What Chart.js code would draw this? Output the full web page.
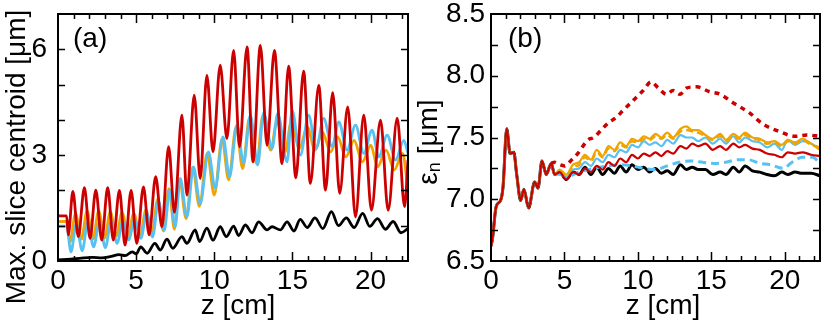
<!DOCTYPE html>
<html>
<head>
<meta charset="utf-8">
<script src="https://cdn.jsdelivr.net/npm/chart.js@4.4.1/dist/chart.umd.min.js"></script>
<style>
  html, body { margin: 0; padding: 0; background: #fff; }
  #wrap { position: relative; width: 822px; height: 329px; }
  canvas { position: absolute; top: 0; }
  #chartA { left: 0; }
  #chartB { left: 411px; }
</style>
</head>
<body>
<div id="wrap">
  <canvas id="chartA" width="411" height="329"></canvas>
  <canvas id="chartB" width="411" height="329"></canvas>
</div>
<script>
// ---- panel (a): max. slice centroid [um] vs z [cm] ----
const aRedZ = [0, 0.55, 0.66, 0.95, 1.30, 1.69, 2.05, 2.42, 2.80, 3.18, 3.54, 3.93, 4.29, 4.68, 5.04, 5.47, 5.83, 6.25, 6.65, 7.08, 7.45, 7.93, 8.25, 8.72, 9.10, 9.53, 9.92, 10.38, 10.81, 11.24, 11.62, 12.10, 12.48, 12.95, 13.38, 13.85, 14.34, 14.76, 15.22, 15.72, 16.15, 16.69, 17.12, 17.58, 18.03, 18.54, 19.04, 19.57, 20.06, 20.64, 21.13, 21.71, 22.18, 22.4];
const aRedV = [1.28, 1.28, 0.74, 1.97, 0.69, 2.08, 0.64, 2.01, 0.59, 2.08, 0.59, 2.00, 0.45, 2.00, 0.50, 2.10, 0.74, 2.39, 0.97, 3.24, 1.38, 4.13, 1.87, 4.70, 2.34, 5.26, 3.09, 5.55, 3.47, 5.97, 3.24, 6.07, 2.81, 6.11, 3.28, 5.97, 2.76, 5.52, 2.36, 5.38, 2.20, 4.98, 2.01, 4.77, 1.92, 4.37, 1.25, 4.13, 1.44, 3.99, 1.44, 4.05, 1.54, 2.86];

const aBlueZ = [0, 0.55, 0.83, 1.17, 1.55, 1.90, 2.28, 2.65, 3.03, 3.40, 3.78, 4.15, 4.53, 4.90, 5.30, 5.68, 6.05, 6.43, 6.80, 7.15, 7.50, 7.82, 8.25, 8.67, 9.10, 9.63, 10.06, 10.56, 10.98, 11.45, 11.88, 12.31, 12.78, 13.16, 13.70, 14.06, 14.66, 14.98, 15.51, 16.04, 16.52, 17.00, 17.54, 17.97, 18.50, 19.04, 19.57, 20.10, 20.53, 21.07, 21.60, 22.13, 22.40];
const aBlueV = [0.99, 0.99, 0.26, 1.05, 0.29, 1.10, 0.40, 1.10, 0.38, 1.12, 0.50, 1.12, 0.59, 1.18, 0.64, 1.36, 0.68, 1.70, 0.87, 2.00, 0.97, 2.34, 1.25, 2.67, 1.63, 3.09, 2.06, 3.52, 2.39, 3.85, 2.77, 4.13, 2.72, 4.20, 3.19, 4.18, 2.81, 4.27, 3.00, 4.13, 3.19, 4.04, 3.24, 3.94, 3.14, 3.85, 3.05, 3.71, 2.95, 3.57, 2.86, 3.42, 3.05];

const aOrangeZ = [0, 0.55, 0.78, 1.12, 1.50, 1.86, 2.24, 2.60, 2.98, 3.35, 3.73, 4.10, 4.48, 4.85, 5.25, 5.63, 6.00, 6.38, 6.75, 7.10, 7.45, 7.78, 8.20, 8.62, 9.05, 9.55, 10.0, 10.50, 10.92, 11.40, 11.82, 12.25, 12.72, 13.10, 13.62, 14.00, 14.55, 14.92, 15.45, 15.95, 16.45, 16.92, 17.45, 17.90, 18.42, 18.95, 19.48, 20.02, 20.45, 21.0, 21.52, 22.05, 22.40];
const aOrangeV = [1.12, 1.12, 0.55, 1.35, 0.62, 1.42, 0.62, 1.42, 0.65, 1.40, 0.70, 1.38, 0.72, 1.35, 0.70, 1.45, 0.75, 1.75, 0.85, 2.05, 0.90, 2.30, 1.20, 2.65, 1.55, 3.05, 1.87, 3.45, 2.30, 3.80, 2.62, 4.05, 2.75, 4.10, 3.14, 3.95, 3.10, 3.94, 3.19, 3.80, 3.14, 3.66, 3.09, 3.52, 2.95, 3.42, 2.81, 3.28, 2.67, 3.14, 2.58, 3.05, 2.05];

const aBlackZ = [0, 0.8, 1.5, 2.2, 2.8, 3.4, 3.9, 4.3, 4.75, 5.0, 5.30, 5.70, 6.20, 6.55, 6.97, 7.35, 7.93, 8.25, 8.78, 9.06, 9.53, 9.92, 10.38, 10.77, 11.24, 11.56, 11.99, 12.42, 12.84, 13.38, 13.70, 14.23, 14.66, 15.10, 15.50, 15.95, 16.45, 16.95, 17.50, 17.95, 18.45, 18.95, 19.50, 19.95, 20.45, 20.95, 21.45, 21.95, 22.40];
const aBlackV = [0.03, 0.05, 0.08, 0.10, 0.09, 0.13, 0.18, 0.15, 0.26, 0.20, 0.40, 0.22, 0.50, 0.31, 0.62, 0.36, 0.69, 0.50, 0.88, 0.55, 0.93, 0.59, 0.97, 0.69, 0.99, 0.72, 1.02, 0.80, 1.11, 0.88, 0.97, 0.88, 1.11, 0.85, 1.18, 0.95, 1.22, 0.92, 1.40, 1.00, 1.22, 0.95, 1.35, 0.98, 1.20, 0.90, 1.12, 0.80, 0.92];

// ---- panel (b): emittance [um] vs z [cm] ----
const bStartZ = [0, 0.1, 0.35, 0.65, 0.82, 1.07, 1.30, 1.55, 1.75, 2.02, 2.24, 2.56, 2.97, 3.20, 3.47, 3.76, 4.10, 4.33];
const bStartV = [6.62, 6.68, 6.94, 6.99, 7.10, 7.57, 7.37, 7.38, 7.20, 6.99, 7.08, 6.93, 7.14, 7.09, 7.31, 7.20, 7.29, 7.20];
const bTailZ = [4.67, 5.12, 5.58, 6.0, 6.4, 6.8, 7.2, 7.6, 8.0, 8.4, 8.8, 9.2, 9.6, 10.0, 10.4, 10.8, 11.2, 11.6, 12.0, 12.4, 12.9, 13.3, 13.7, 14.1, 14.6, 15.1, 15.6, 16.0, 16.5, 16.9, 17.3, 17.8, 18.3, 18.8, 19.3, 19.8, 20.2, 20.7, 21.2, 21.8, 22.4];
const bBlackV = [7.22, 7.16, 7.22, 7.20, 7.26, 7.20, 7.26, 7.20, 7.25, 7.21, 7.27, 7.22, 7.28, 7.24, 7.26, 7.22, 7.25, 7.21, 7.23, 7.20, 7.28, 7.24, 7.26, 7.24, 7.24, 7.20, 7.22, 7.20, 7.26, 7.22, 7.27, 7.23, 7.22, 7.20, 7.19, 7.22, 7.20, 7.22, 7.21, 7.21, 7.19];
const bRedV = [7.22, 7.16, 7.22, 7.20, 7.25, 7.22, 7.27, 7.24, 7.30, 7.27, 7.33, 7.30, 7.36, 7.33, 7.37, 7.35, 7.38, 7.35, 7.39, 7.37, 7.43, 7.41, 7.45, 7.43, 7.45, 7.40, 7.43, 7.40, 7.45, 7.42, 7.44, 7.41, 7.40, 7.37, 7.36, 7.34, 7.38, 7.37, 7.38, 7.36, 7.35];
const bBlueV = [7.20, 7.18, 7.24, 7.25, 7.30, 7.27, 7.33, 7.30, 7.36, 7.34, 7.40, 7.38, 7.44, 7.42, 7.47, 7.44, 7.46, 7.43, 7.48, 7.45, 7.52, 7.50, 7.50, 7.47, 7.50, 7.45, 7.49, 7.45, 7.51, 7.46, 7.50, 7.47, 7.46, 7.42, 7.45, 7.40, 7.48, 7.44, 7.47, 7.45, 7.41];
const bOrangeV = [7.24, 7.20, 7.28, 7.30, 7.36, 7.32, 7.40, 7.35, 7.43, 7.40, 7.46, 7.43, 7.49, 7.47, 7.51, 7.49, 7.53, 7.50, 7.54, 7.50, 7.57, 7.59, 7.56, 7.56, 7.52, 7.49, 7.53, 7.48, 7.53, 7.50, 7.54, 7.50, 7.49, 7.46, 7.47, 7.44, 7.48, 7.46, 7.49, 7.45, 7.40];
const bOrangeDashV = [7.23, 7.19, 7.26, 7.28, 7.34, 7.31, 7.38, 7.34, 7.41, 7.39, 7.44, 7.42, 7.47, 7.46, 7.49, 7.48, 7.51, 7.49, 7.52, 7.49, 7.55, 7.56, 7.55, 7.54, 7.51, 7.48, 7.51, 7.47, 7.51, 7.49, 7.52, 7.49, 7.48, 7.45, 7.46, 7.43, 7.47, 7.45, 7.48, 7.44, 7.42];
const bBlueDashZ = [4.67, 5.12, 6.0, 7.0, 8.0, 8.8, 9.6, 10.4, 11.2, 12.0, 12.8, 13.6, 14.4, 15.2, 16.0, 16.8, 17.5, 18.3, 19.0, 19.9, 20.5, 21.2, 21.9, 22.4];
const bBlueDashV = [7.21, 7.18, 7.22, 7.25, 7.27, 7.28, 7.27, 7.25, 7.24, 7.27, 7.30, 7.31, 7.30, 7.29, 7.30, 7.32, 7.32, 7.29, 7.28, 7.25, 7.30, 7.34, 7.34, 7.29];
const bRedDotZ = [4.10, 4.33, 4.67, 5.0, 5.5, 5.9, 6.6, 7.0, 7.5, 8.0, 8.5, 9.0, 9.6, 10.36, 10.9, 11.4, 11.95, 12.4, 12.86, 13.3, 14.0, 14.9, 15.6, 16.5, 17.6, 18.5, 19.6, 20.7, 21.5, 22.4];
const bRedDotV = [7.29, 7.30, 7.28, 7.27, 7.32, 7.37, 7.48, 7.50, 7.56, 7.62, 7.66, 7.72, 7.79, 7.88, 7.95, 7.90, 7.85, 7.88, 7.85, 7.90, 7.91, 7.87, 7.85, 7.78, 7.70, 7.61, 7.55, 7.51, 7.52, 7.51];

const RED = '#cc0000', ORANGE = '#f0a400', BLUE = '#56c1f2', BLACK = '#000000';
const FONT = '"Liberation Sans", Arial, Helvetica, sans-serif';

function pts(zs, vs) {
  return zs.map((z, i) => ({ x: z, y: vs[i] }));
}

function line(zs, vs, color, width, dash) {
  return {
    data: pts(zs, vs),
    borderColor: color,
    borderWidth: width,
    borderDash: dash || [],
    pointRadius: 0,
    fill: false,
    cubicInterpolationMode: 'monotone'
  };
}

// frame, inward ticks on all four sides, panel label and axis titles
function framePlugin(o) {
  return {
    id: 'frame',
    afterDraw(chart) {
      const { ctx, chartArea: a } = chart;
      const xs = chart.scales.x, ys = chart.scales.y;
      ctx.save();
      ctx.setLineDash([]);
      ctx.strokeStyle = '#000';
      ctx.lineWidth = 1.5;
      ctx.beginPath();
      for (let v = 1; v < xs.max; v += 1) {
        const px = Math.round(xs.getPixelForValue(v)) + 0.5;
        const len = v % 5 === 0 ? 9 : 5;
        ctx.moveTo(px, a.bottom); ctx.lineTo(px, a.bottom - len);
        ctx.moveTo(px, a.top); ctx.lineTo(px, a.top + len);
      }
      for (let k = 1; ys.min + k * o.yStep < ys.max - 1e-6; k++) {
        const py = Math.round(ys.getPixelForValue(ys.min + k * o.yStep)) + 0.5;
        ctx.moveTo(a.left, py); ctx.lineTo(a.left + 7, py);
        ctx.moveTo(a.right, py); ctx.lineTo(a.right - 7, py);
      }
      ctx.stroke();
      ctx.lineWidth = 2;
      ctx.strokeRect(a.left, a.top, a.right - a.left, a.bottom - a.top);

      ctx.fillStyle = '#000';
      ctx.font = '28px ' + FONT;
      ctx.textBaseline = 'alphabetic';
      ctx.textAlign = 'left';
      ctx.fillText(o.label, o.labelX, 47);
      ctx.textAlign = 'center';
      ctx.fillText('z [cm]', o.xTitleX, 314);

      ctx.translate(o.yTitleX, o.yTitleY);
      ctx.rotate(-Math.PI / 2);
      o.yTitle(ctx);
      ctx.restore();
    }
  };
}

function xScale() {
  return {
    type: 'linear', min: 0, max: 22.4,
    grid: { display: false, drawTicks: false },
    border: { display: false },
    ticks: {
      stepSize: 1, includeBounds: false, autoSkip: false, maxRotation: 0, padding: 3,
      color: '#000', font: { family: FONT, size: 28 },
      callback: v => (v % 5 === 0 ? String(v) : '')
    },
    afterFit: s => { s.height = 68; s.paddingLeft = 0; s.paddingRight = 0; }
  };
}

new Chart(document.getElementById('chartA'), {
  type: 'line',
  data: {
    datasets: [
      line(aRedZ, aRedV, RED, 2.8),
      line(aBlueZ, aBlueV, BLUE, 2.8),
      line(aOrangeZ, aOrangeV, ORANGE, 2.8),
      line(aBlackZ, aBlackV, BLACK, 2.8)
    ]
  },
  options: {
    responsive: false,
    animation: false,
    layout: { padding: { left: 0, right: 3, top: 14, bottom: 0 } },
    plugins: { legend: { display: false }, tooltip: { enabled: false } },
    scales: {
      x: xScale(),
      y: {
        type: 'linear', min: 0, max: 7,
        grid: { display: false, drawTicks: false },
        border: { display: false },
        ticks: {
          stepSize: 1, autoSkip: false, padding: 11, color: '#000', font: { family: FONT, size: 28 },
          callback: v => (v % 3 === 0 ? String(v) : '')
        },
        afterFit: s => { s.width = 58; s.paddingTop = 0; s.paddingBottom = 0; }
      }
    }
  },
  plugins: [framePlugin({
    label: '(a)', labelX: 73, xTitleX: 238, yTitleX: 25, yTitleY: 157, yStep: 1,
    yTitle: ctx => {
      ctx.textAlign = 'center';
      ctx.fillText('Max. slice centroid [\u03bcm]', 0, 0);
    }
  })]
});

new Chart(document.getElementById('chartB'), {
  type: 'line',
  data: {
    datasets: [
      line(bStartZ.concat(bTailZ), bStartV.concat(bRedV), RED, 2.2),
      line(bRedDotZ, bRedDotV, RED, 3.5, [5, 5]),
      line(bStartZ.concat(bTailZ), bStartV.concat(bOrangeV), ORANGE, 2.2),
      line(bTailZ, bOrangeDashV, ORANGE, 2.5, [7, 4]),
      line(bStartZ.concat(bTailZ), bStartV.concat(bBlueV), BLUE, 2.2),
      line(bBlueDashZ, bBlueDashV, BLUE, 3, [8, 5]),
      line(bStartZ.concat(bTailZ), bStartV.concat(bBlackV), BLACK, 3)
    ]
  },
  options: {
    responsive: false,
    animation: false,
    layout: { padding: { left: 0, right: 2, top: 14, bottom: 0 } },
    plugins: { legend: { display: false }, tooltip: { enabled: false } },
    scales: {
      x: xScale(),
      y: {
        type: 'linear', min: 6.5, max: 8.5,
        grid: { display: false, drawTicks: false },
        border: { display: false },
        ticks: {
          stepSize: 0.25, autoSkip: false, padding: 6, color: '#000', font: { family: FONT, size: 28 },
          callback: v => (Math.abs(v * 2 - Math.round(v * 2)) < 1e-6 ? v.toFixed(1) : '')
        },
        afterFit: s => { s.width = 80; s.paddingTop = 0; s.paddingBottom = 0; }
      }
    }
  },
  plugins: [framePlugin({
    label: '(b)', labelX: 97, xTitleX: 252, yTitleX: 26, yTitleY: 142, yStep: 0.25,
    yTitle: ctx => {
      const big = '28px ' + FONT, small = '18px ' + FONT;
      ctx.textAlign = 'left';
      ctx.font = big;
      const w1 = ctx.measureText('\u03b5').width;
      const w3 = ctx.measureText(' [\u03bcm]').width;
      ctx.font = small;
      const w2 = ctx.measureText('n').width;
      let x = -(w1 + w2 + w3) / 2;
      ctx.font = big;
      ctx.fillText('\u03b5', x, 0);
      x += w1;
      ctx.font = small;
      ctx.fillText('n', x, 3);
      x += w2;
      ctx.font = big;
      ctx.fillText(' [\u03bcm]', x, 0);
    }
  })]
});
</script>
</body>
</html>
